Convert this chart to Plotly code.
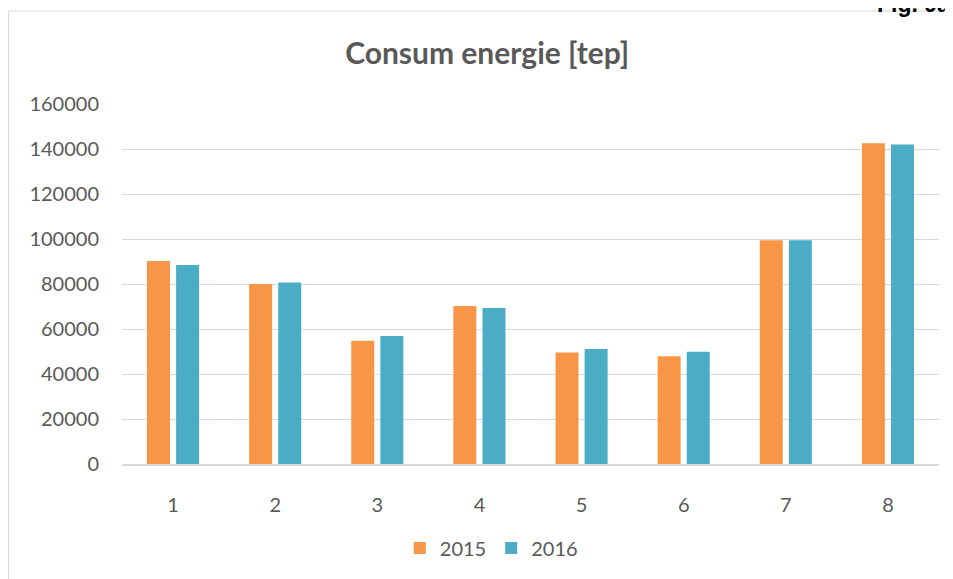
import plotly.graph_objects as go

categories = ["1", "2", "3", "4", "5", "6", "7", "8"]
values_2015 = [90200, 80000, 54800, 70200, 49600, 47900, 99400, 142600]
values_2016 = [88400, 80700, 56900, 69300, 51100, 49900, 99500, 142000]
y_ticks = [0, 20000, 40000, 60000, 80000, 100000, 120000, 140000, 160000]

grey = "#595959"
font_family = "Lato, 'Open Sans', sans-serif"

fig = go.Figure()
fig.add_trace(go.Bar(x=categories, y=values_2015, name="2015",
                     marker=dict(color="#F79646", line=dict(width=0))))
fig.add_trace(go.Bar(x=categories, y=values_2016, name="2016",
                     marker=dict(color="#4BACC6", line=dict(width=0))))

# the page body adds 8px margin, so the figure is 8px smaller than the window
fig.update_layout(
    width=945, height=571,
    margin=dict(l=114, r=14, t=96, b=115),
    paper_bgcolor="white", plot_bgcolor="white",
    barmode="group", bargap=0.43, bargroupgap=0.21,
    font=dict(family=font_family, color=grey, size=20),
    title=dict(text="<b>Consum energie [tep]</b>", x=0.447, xref="paper",
               xanchor="center", y=0.92, yanchor="middle",
               font=dict(size=30, color=grey, family=font_family)),
    legend=dict(orientation="h", x=0.452, xanchor="center", y=-0.233,
                yanchor="middle", font=dict(size=20, color=grey),
                itemwidth=30, traceorder="normal"),
    xaxis=dict(showgrid=False, showline=True, linecolor="#D9D9D9", linewidth=1.5,
               ticks="", ticklabelstandoff=22, tickfont=dict(size=20, color=grey)),
    yaxis=dict(range=[0, 160000], tickvals=y_ticks, tickformat="d", showgrid=True,
               gridcolor="#D9D9D9", gridwidth=1, zeroline=False, showline=False,
               ticks="", ticklabelstandoff=22, tickfont=dict(size=20, color=grey)),
    shapes=[dict(type="rect", xref="paper", yref="paper",
                 x0=-0.1389, x1=1.2, y0=-0.6, y1=1.2583,
                 line=dict(color="#D9D9D9", width=1), fillcolor="rgba(0,0,0,0)",
                 layer="below")],
    annotations=[dict(text="<b>Fig. 9a</b>", xref="paper", yref="paper",
                      x=0.922, y=1.279, xanchor="left", yanchor="middle",
                      showarrow=False,
                      font=dict(family="Arial, 'Liberation Sans', sans-serif",
                                size=23, color="black"))],
)

fig.write_html("out.html")
